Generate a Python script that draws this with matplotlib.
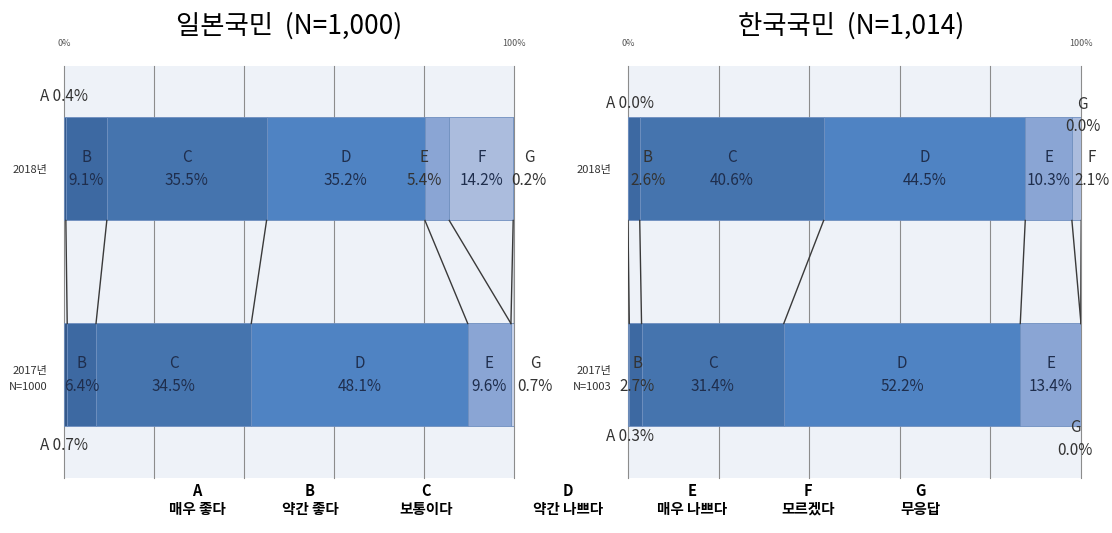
import numpy as np
from matplotlib import pyplot as plt

plt.rcParams["font.family"] = ["Noto Sans CJK KR", "DejaVu Sans"]

categories = ["A", "B", "C", "D", "E", "F", "G"]
category_names = ["매우 좋다", "약간 좋다", "보통이다", "약간 나쁘다", "매우 나쁘다", "모르겠다", "무응답"]

# percentages, F was not asked in 2017
japan_2018 = [0.4, 9.1, 35.5, 35.2, 5.4, 14.2, 0.2]
japan_2017 = [0.7, 6.4, 34.5, 48.1, 9.6, np.nan, 0.7]
korea_2018 = [0.0, 2.6, 40.6, 44.5, 10.3, 2.1, 0.0]
korea_2017 = [0.3, 2.7, 31.4, 52.2, 13.4, np.nan, 0.0]

japan_title = "일본국민  (N=1,000)"
korea_title = "한국국민  (N=1,014)"
japan_rows = ["2018년", "2017년\nN=1000"]
korea_rows = ["2018년", "2017년\nN=1003"]

colors = ["#35598a", "#3d69a2", "#4574ae", "#4f83c3", "#8aa5d4", "#abbcdd", "#c6d1e8"]
text_color = "#1f2e4d"

# labels that Excel moved away from the segment centre: (row, cat) -> (x, y, one line?)
japan_moved = {
    (0, "A"): (0.0, -0.35, True),
    (0, "E"): (80.0, 0.0, False),
    (0, "G"): (103.3, 0.0, False),
    (1, "A"): (0.0, 1.34, True),
    (1, "G"): (104.7, 1.0, False),
}
korea_moved = {
    (0, "A"): (0.4, -0.32, True),
    (0, "B"): (4.4, 0.0, False),
    (0, "F"): (102.4, 0.0, False),
    (0, "G"): (100.4, -0.26, False),
    (1, "A"): (0.5, 1.30, True),
    (1, "B"): (2.0, 1.0, False),
    (1, "G"): (98.7, 1.31, False),
}


def draw_panel(ax, rows, values_2018, values_2017, moved):
    data = [np.array(values_2018, float), np.array(values_2017, float)]
    widths = [np.nan_to_num(d) for d in data]
    lefts = [np.concatenate([[0], np.cumsum(w)[:-1]]) for w in widths]

    ax.set_facecolor("#eef2f8")
    for i, cat in enumerate(categories):
        ax.barh([0, 1], [widths[0][i], widths[1][i]], left=[lefts[0][i], lefts[1][i]],
                height=0.5, color=colors[i], edgecolor="#6f8fbf", linewidth=0.6, zorder=2)

    # series lines between the two bars
    for i in range(len(categories)):
        x_top = lefts[0][i] + widths[0][i]
        x_bot = lefts[1][i] + widths[1][i]
        ax.plot([x_top, x_bot], [0.25, 0.75], color="#3a3a3a", lw=1.0, zorder=3)

    for row in range(2):
        for i, cat in enumerate(categories):
            v = data[row][i]
            if np.isnan(v):
                continue
            if (row, cat) in moved:
                x, y, inline = moved[(row, cat)]
                color = "#333333"
            else:
                x, y, inline = lefts[row][i] + widths[row][i] / 2, row, False
                color = text_color
            txt = f"{cat} {v:.1f}%" if inline else f"{cat}\n{v:.1f}%"
            ax.text(x, y, txt, ha="center", va="center", fontsize=11, color=color,
                    linespacing=1.45, zorder=4, clip_on=False)

    ax.set_xlim(0, 100)
    ax.set_ylim(1.5, -0.5)
    ax.set_xticks([0, 20, 40, 60, 80, 100], ["0%", "", "", "", "", "100%"])
    ax.xaxis.tick_top()
    ax.xaxis.grid(True, color="#8c8c8c", lw=0.8)
    for gl in ax.get_xgridlines():
        gl.set_clip_on(False)
    ax.set_axisbelow(True)
    ax.tick_params(axis="x", length=0, pad=13, labelsize=6.5, labelcolor="#555555")
    ax.set_yticks([0, 1], rows)
    ax.tick_params(axis="y", length=0, pad=12, labelsize=8, labelcolor="#333333")
    for lab in ax.get_yticklabels():
        lab.set_linespacing(1.7)
    for sp in ax.spines.values():
        sp.set_visible(False)


fig = plt.figure(figsize=(11.12, 5.33), dpi=100)
ax_jp = fig.add_axes([0.0576, 0.1032, 0.4047, 0.773])
ax_kr = fig.add_axes([0.5647, 0.1032, 0.4074, 0.773])

draw_panel(ax_jp, japan_rows, japan_2018, japan_2017, japan_moved)
draw_panel(ax_kr, korea_rows, korea_2018, korea_2017, korea_moved)

fig.text(0.260, 0.951, japan_title, ha="center", va="center", fontsize=19)
fig.text(0.765, 0.951, korea_title, ha="center", va="center", fontsize=19)

legend_x = [197, 310, 426, 568, 692, 808, 920]
for x, cat, name in zip(legend_x, categories, category_names):
    fig.text(x / 1112, 0.062, f"{cat}\n{name}", ha="center", va="center",
             fontsize=10.5, fontweight="bold", linespacing=1.15)

fig.savefig("out.png", dpi=100)
